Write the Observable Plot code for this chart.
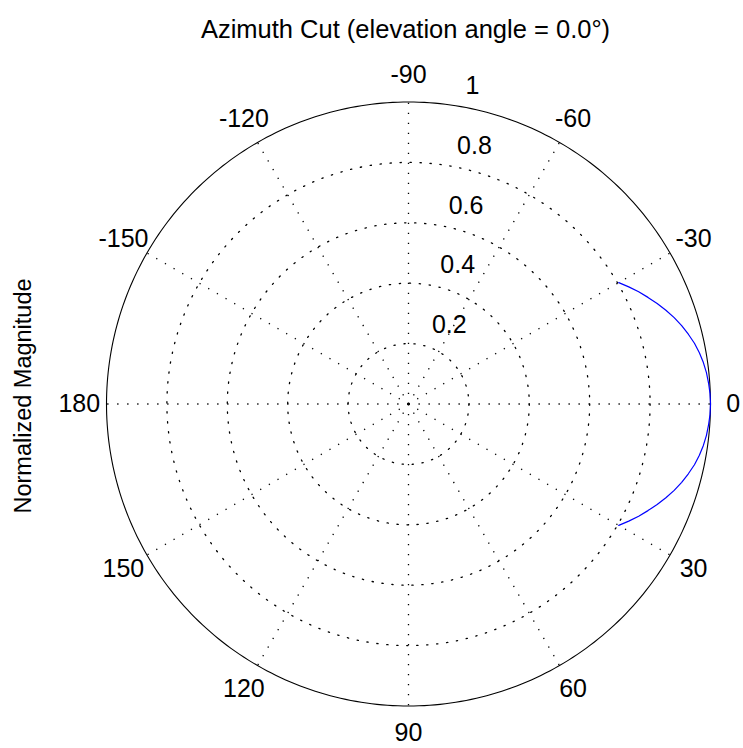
<!DOCTYPE html>
<html>
<head>
<meta charset="utf-8">
<script src="https://cdn.jsdelivr.net/npm/d3@7"></script>
<script src="https://cdn.jsdelivr.net/npm/@observablehq/plot@0.6"></script>
<style>
  html, body { margin: 0; padding: 0; background: #fff; }
  #chart svg { display: block; }
</style>
</head>
<body>
<div id="chart"></div>
<script>
// Azimuth cut of the normalized array response (degrees, linear magnitude)
const azimuthDeg = [-30, -28, -26, -24, -22, -20, -18, -16, -14, -12, -10, -8, -6, -4, -2, 0,
                    2, 4, 6, 8, 10, 12, 14, 16, 18, 20, 22, 24, 26, 28, 30];
const magnitude = [0.804, 0.826, 0.848, 0.868, 0.888, 0.907, 0.925, 0.941, 0.955, 0.968, 0.978, 0.986, 0.992, 0.996, 0.999, 1.000,
                   0.999, 0.996, 0.992, 0.986, 0.978, 0.968, 0.955, 0.941, 0.925, 0.907, 0.888, 0.868, 0.848, 0.826, 0.804];

// Angular ticks (spokes every 30 degrees) and their labels
const angleTicks = [0, 30, 60, 90, 120, 150, 180, 210, 240, 270, 300, 330];
const angleTickLabels = ["0", "30", "60", "90", "120", "150", "180", "-150", "-120", "-90", "-60", "-30"];

// Radial rings and their labels
const radialTicks = [0.2, 0.4, 0.6, 0.8, 1];
const radialTickLabels = ["0.2", "0.4", "0.6", "0.8", "1"];

const titleText = "Azimuth Cut (elevation angle = 0.0\u00B0)";
const yLabelText = "Normalized Magnitude";

// Polar -> cartesian (angle grows clockwise on screen: y scale is reversed)
const rad = (d) => d * Math.PI / 180;
const px = (a, r) => r * Math.cos(rad(a));
const py = (a, r) => r * Math.sin(rad(a));

const pattern = azimuthDeg.map((a, i) => ({a, r: magnitude[i]}));

// Sampled points for each ring
const ringSteps = d3.range(0, 361, 1);
const innerRings = radialTicks.filter((r) => r < 1)
  .flatMap((r) => ringSteps.map((a) => ({ring: r, a})));
const outerRing = ringSteps.map((a) => ({a}));

const spokes = angleTicks.map((a) => ({a}));
const angleLabels = angleTicks.map((a, i) => ({a, label: angleTickLabels[i]}));
const radialLabels = radialTicks.map((r, i) => ({r, label: radialTickLabels[i]}));
const labelAngle = -82;
const labelRadius = 1.09;
const fontFamily = "'Liberation Sans', Arial, Helvetica, sans-serif";

const chart = Plot.plot({
  width: 743,
  height: 748,
  marginLeft: 106,
  marginRight: 33,
  marginTop: 101.5,
  marginBottom: 42.5,
  style: {fontFamily, background: "#fff", overflow: "visible"},
  x: {domain: [-1, 1], axis: null},
  y: {domain: [-1, 1], reverse: true, axis: null},
  marks: [
    // dotted spokes
    Plot.link(spokes, {
      x1: 0, y1: 0,
      x2: (d) => px(d.a, 1), y2: (d) => py(d.a, 1),
      stroke: "#000", strokeWidth: 1.3, strokeDasharray: "1.3,8.7"
    }),
    // dotted inner rings
    Plot.line(innerRings, {
      x: (d) => px(d.a, d.ring), y: (d) => py(d.a, d.ring), z: "ring",
      stroke: "#000", strokeWidth: 1.3, strokeDasharray: "1.3,8.7"
    }),
    // solid outer ring
    Plot.line(outerRing, {
      x: (d) => px(d.a, 1), y: (d) => py(d.a, 1),
      stroke: "#000", strokeWidth: 1.1
    }),
    // angle labels (the 0 label sits tight against the right edge)
    Plot.text(angleLabels, {
      x: (d) => px(d.a, d.a === 0 ? 1.075 : labelRadius), y: (d) => py(d.a, labelRadius), text: "label",
      fontSize: 25, fill: "#000", textAnchor: "middle", lineAnchor: "middle"
    }),
    // radial labels along the 82-degree line
    Plot.text(radialLabels, {
      x: (d) => px(labelAngle, d.r), y: (d) => py(labelAngle, d.r), text: "label",
      fontSize: 25, fill: "#000", textAnchor: "start", lineAnchor: "bottom", dx: 15, dy: -11
    }),
    // pattern
    Plot.line(pattern, {
      x: (d) => px(d.a, d.r), y: (d) => py(d.a, d.r),
      stroke: "#0000ff", strokeWidth: 1.2
    }),
    // title
    Plot.text([titleText], {
      frameAnchor: "top", text: (d) => d, fontSize: 25.5, fill: "#000",
      lineAnchor: "bottom", dx: -3, dy: -64
    }),
    // radial axis label
    Plot.text([yLabelText], {
      frameAnchor: "left", text: (d) => d, fontSize: 23.5, fill: "#000",
      rotate: -90, textAnchor: "middle", lineAnchor: "middle", dx: -83, dy: -8
    })
  ]
});

document.getElementById("chart").appendChild(chart);
</script>
</body>
</html>
